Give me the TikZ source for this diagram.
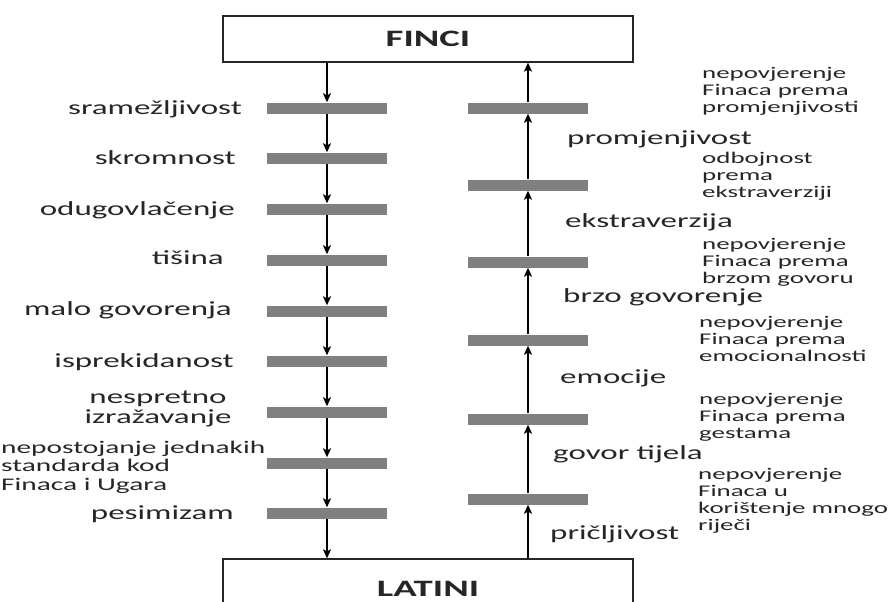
\documentclass[tikz,border=0pt]{standalone}
\usepackage{fontspec}
\setmainfont{Carlito}[FakeStretch=1.65]
\usetikzlibrary{arrows.meta}
\definecolor{barc}{RGB}{128,128,128}
\definecolor{txt}{RGB}{38,38,38}
\begin{document}
\begin{tikzpicture}[x=1pt,y=-1pt,
  bar/.style={fill=barc, minimum width=120pt, minimum height=11pt, inner sep=0pt, draw=none},
  bigbox/.style={draw=txt, line width=1.3pt, minimum width=410pt, inner sep=0pt, font=\fontsize{23.5}{24}\selectfont\bfseries, text=txt},
  arr/.style={draw=black, line width=1.4pt, -{Stealth[length=9pt,width=8pt,inset=2pt]}},
  lab/.style={inner sep=0pt, text=txt, font=\fontsize{20}{18}\selectfont},
  small/.style={inner sep=0pt, text=txt, align=left, anchor=west, font=\fontsize{16.3}{17}\selectfont},
]
\useasboundingbox (0,0) rectangle (892,602);
\clip (0,0) rectangle (892,602);
\fill[white] (0,0) rectangle (892,602);
\node[bigbox, minimum height=46pt] (F) at (428,39) {FINCI};
\node[bigbox, minimum height=60pt] (La) at (428,589) {LATINI};
% left bars
\foreach \i/\y in {1/108,2/158,3/209,4/260,5/311,6/361,7/412,8/463,9/513}
  \node[bar] (L\i) at (327,\y) {};
% right bars (bottom to top)
\foreach \i/\y in {1/499,2/419,3/340,4/262,5/185,6/108}
  \node[bar] (R\i) at (528,\y) {};
% left arrows (downwards)
\draw[arr] (L1.north |- F.south) -- (L1.north);
\foreach \i/\j in {1/2,2/3,3/4,4/5,5/6,6/7,7/8,8/9}
  \draw[arr] (L\i.south) -- (L\j.north);
\draw[arr] (L9.south) -- (L9.south |- La.north);
% right arrows (upwards)
\draw[arr] (R1.south |- La.north) -- (R1.south);
\foreach \i/\j in {1/2,2/3,3/4,4/5,5/6}
  \draw[arr] (R\i.north) -- (R\j.south);
\draw[arr] (R6.north) -- (R6.north |- F.south);
% left labels
\node[lab, anchor=base east] (l1) at (242,114) {sramežljivost};
\node[lab, anchor=base east] (l2) at (236,164) {skromnost};
\node[lab, anchor=base east] (l3) at (235,215) {odugovlačenje};
\node[lab, anchor=base east] (l4) at (224,264) {tišina};
\node[lab, anchor=base east] (l5) at (232,315) {malo govorenja};
\node[lab, anchor=base east] (l6) at (234,367) {isprekidanost};
\node[lab, align=center, anchor=center, font=\fontsize{20}{19.5}\selectfont] (l7) at (158,409) {nespretno\\izražavanje};
\node[lab, align=left, anchor=west, font=\fontsize{17.8}{18.5}\selectfont] (l8) at (1,467) {nepostojanje jednakih\\standarda kod\\Finaca i Ugara};
\node[lab, anchor=base east] (l9) at (234,519) {pesimizam};
% right labels
\node[lab, anchor=base west] (r6) at (567,144) {promjenjivost};
\node[lab, anchor=base west] (r5) at (565,227) {ekstraverzija};
\node[lab, anchor=base west] (r4) at (563,302) {brzo govorenje};
\node[lab, anchor=base west] (r3) at (560,383) {emocije};
\node[lab, anchor=base west] (r2) at (553,459) {govor tijela};
\node[lab, anchor=base west] (r1) at (550,539) {pričljivost};
% right notes
\node[small] (n6) at (702,91) {nepovjerenje\\Finaca prema\\promjenjivosti};
\node[small] (n5) at (702,176) {odbojnost\\prema\\ekstraverziji};
\node[small] (n4) at (702,262) {nepovjerenje\\Finaca prema\\brzom govoru};
\node[small] (n3) at (699,339) {nepovjerenje\\Finaca prema\\emocionalnosti};
\node[small] (n2) at (699,417) {nepovjerenje\\Finaca prema\\gestama};
\node[small] (n1) at (698,501) {nepovjerenje\\Finaca u\\korištenje mnogo\\riječi};
\end{tikzpicture}
\end{document}
